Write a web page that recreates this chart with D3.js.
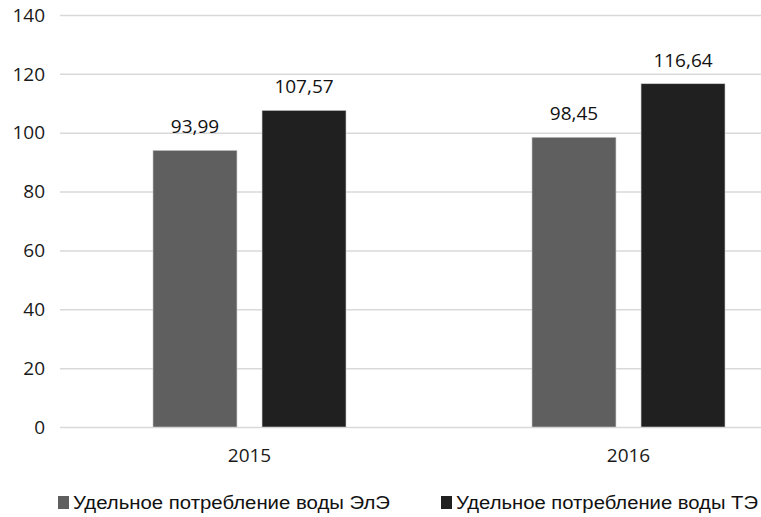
<!DOCTYPE html>
<html>
<head>
<meta charset="utf-8">
<script src="https://cdn.jsdelivr.net/npm/d3@7"></script>
<style>
  body { margin: 0; background: #fff; }
</style>
</head>
<body>
<svg id="chart"></svg>
<script>
const years = ["2015", "2016"];
const seriesNames = ["Удельное потребление воды ЭлЭ", "Удельное потребление воды ТЭ"];
const eleValues = [93.99, 98.45];
const teValues = [107.57, 116.64];
const yTicks = [0, 20, 40, 60, 80, 100, 120, 140];
const colors = ["#5f5f5f", "#202020"];

const width = 761, height = 517;
const margin = { top: 15, right: -57, bottom: 90, left: 60 };

const rows = years.map((yr, i) => ({ year: yr, values: [eleValues[i], teValues[i]] }));

const svg = d3.select("#chart").attr("width", width).attr("height", height);

const x = d3.scaleBand()
  .domain(years)
  .range([margin.left, width - margin.right])
  .paddingInner(0)
  .paddingOuter(0);

// inner scale for the two series in each year
const x1 = d3.scaleBand()
  .domain([0, 1])
  .range([x.bandwidth() / 2 - 96.5, x.bandwidth() / 2 + 96.5])
  .paddingInner(0.23);

const y = d3.scaleLinear()
  .domain([0, 140])
  .range([height - margin.bottom, margin.top]);

// gridlines
svg.append("g")
  .selectAll("line")
  .data(yTicks)
  .join("line")
  .attr("x1", margin.left)
  .attr("x2", width)
  .attr("y1", d => y(d) + 0.5)
  .attr("y2", d => y(d) + 0.5)
  .attr("stroke", "#d9d9d9")
  .attr("stroke-width", 1.5);

// y tick labels
svg.append("g")
  .attr("font-family", "'Open Sans', sans-serif")
  .attr("font-size", 19)
  .attr("fill", "#1a1a1a")
  .attr("text-anchor", "end")
  .selectAll("text")
  .data(yTicks)
  .join("text")
  .attr("x", 45)
  .attr("y", d => y(d))
  .attr("dy", "0.35em")
  .text(d => d);

// bars
const groups = svg.append("g")
  .selectAll("g")
  .data(rows)
  .join("g")
  .attr("transform", d => `translate(${x(d.year)},0)`);

groups.selectAll("rect")
  .data(d => d.values.map((v, i) => ({ v, i })))
  .join("rect")
  .attr("x", d => x1(d.i))
  .attr("y", d => y(d.v))
  .attr("width", x1.bandwidth())
  .attr("height", d => y(0) - y(d.v))
  .attr("fill", d => colors[d.i])
  .attr("stroke", "#c8c8c8")
  .attr("stroke-width", 0.6);

groups.selectAll("text")
  .data(d => d.values.map((v, i) => ({ v, i })))
  .join("text")
  .attr("x", d => x1(d.i) + x1.bandwidth() / 2)
  .attr("y", d => y(d.v) - 17)
  .attr("text-anchor", "middle")
  .attr("font-family", "'Open Sans', sans-serif")
  .attr("font-size", 19)
  .attr("fill", "#111")
  .text(d => d3.format(".2f")(d.v).replace(".", ","));

// x labels
svg.append("g")
  .attr("font-family", "'Open Sans', sans-serif")
  .attr("font-size", 19)
  .attr("fill", "#1a1a1a")
  .attr("text-anchor", "middle")
  .selectAll("text")
  .data(years)
  .join("text")
  .attr("x", d => x(d) + x.bandwidth() / 2)
  .attr("y", 462)
  .text(d => d);

// legend
const legendX = [58, 441];
const legendLen = [317, 302];
const legend = svg.append("g")
  .selectAll("g")
  .data(seriesNames)
  .join("g")
  .attr("transform", (d, i) => `translate(${legendX[i]},509)`);

legend.append("rect")
  .attr("x", 0)
  .attr("y", -13)
  .attr("width", 11)
  .attr("height", 13)
  .attr("fill", (d, i) => colors[i]);

legend.append("text")
  .attr("x", 15)
  .attr("y", 0)
  .attr("font-family", "'Liberation Sans', sans-serif")
  .attr("font-size", 18)
  .attr("fill", "#111")
  .attr("textLength", (d, i) => legendLen[i])
  .attr("lengthAdjust", "spacingAndGlyphs")
  .text(d => d);
</script>
</body>
</html>
